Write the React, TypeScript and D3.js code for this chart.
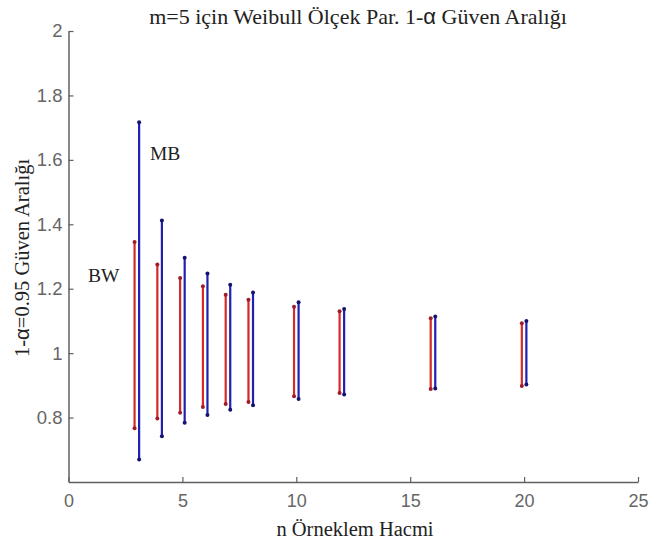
import * as d3 from "d3";
import { useEffect, useRef } from "react";

// sample sizes
const nValues = [3, 4, 5, 6, 7, 8, 10, 12, 16, 20];
// BW intervals (red)
const bwLower = [0.767, 0.797, 0.815, 0.833, 0.842, 0.848, 0.866, 0.876, 0.889, 0.898];
const bwUpper = [1.345, 1.275, 1.233, 1.208, 1.181, 1.166, 1.144, 1.13, 1.108, 1.093];
// MB intervals (blue)
const mbLower = [0.67, 0.742, 0.784, 0.808, 0.824, 0.838, 0.858, 0.872, 0.89, 0.903];
const mbUpper = [1.717, 1.412, 1.296, 1.247, 1.212, 1.188, 1.158, 1.137, 1.114, 1.1];

const xTicks = [0, 5, 10, 15, 20, 25];
const yTicks = [0.8, 1, 1.2, 1.4, 1.6, 1.8, 2];

export default function App() {
  const ref = useRef<SVGSVGElement>(null);

  useEffect(() => {
    if (!ref.current) return;
    const svg = d3.select(ref.current);
    svg.selectAll("*").remove();

    const width = 651,
      height = 546,
      margin = { top: 31, right: 13, bottom: 64, left: 68.5 };

    const x = d3
      .scaleLinear()
      .domain([0, 25])
      .range([margin.left, width - margin.right]);

    const y = d3
      .scaleLinear()
      .domain([0.6, 2])
      .range([height - margin.bottom, margin.top]);

    svg.append("rect").attr("width", width).attr("height", height).attr("fill", "#fff");

    const axisColor = "#606060";
    const serif = "'Liberation Serif', 'Times New Roman', serif";
    const sans = "'Liberation Sans', Arial, sans-serif";

    // X-axis (ticks pointing inward)
    const gx = svg
      .append("g")
      .attr("transform", `translate(0, ${height - margin.bottom})`)
      .call(d3.axisBottom(x).tickValues(xTicks).tickSize(0).tickPadding(12).tickFormat(d3.format("d")));
    gx.select(".domain").attr("stroke", axisColor).attr("stroke-width", 1.5);
    gx.selectAll(".tick")
      .append("line")
      .attr("y2", -5)
      .attr("stroke", axisColor)
      .attr("stroke-width", 1.2);
    gx.selectAll("text")
      .attr("fill", "#666")
      .attr("font-family", sans)
      .attr("font-size", "18px");

    // Y-axis
    const gy = svg
      .append("g")
      .attr("transform", `translate(${margin.left}, 0)`)
      .call(d3.axisLeft(y).tickValues(yTicks).tickSize(0).tickPadding(6).tickFormat((d) => String(d)));
    gy.select(".domain").attr("stroke", axisColor).attr("stroke-width", 1.5);
    gy.selectAll(".tick")
      .append("line")
      .attr("x2", 5)
      .attr("stroke", axisColor)
      .attr("stroke-width", 1.2);
    gy.selectAll("text")
      .attr("fill", "#666")
      .attr("font-family", sans)
      .attr("font-size", "18.5px");

    // interval lines
    const series = [
      { lower: bwLower, upper: bwUpper, shift: -0.1, color: "#d42a2a", dot: "#a01c2a" },
      { lower: mbLower, upper: mbUpper, shift: 0.1, color: "#1f1fb0", dot: "#14146e" },
    ];

    series.forEach((s) => {
      const g = svg.append("g");
      g.selectAll("line")
        .data(nValues)
        .enter()
        .append("line")
        .attr("x1", (d) => x(d + s.shift))
        .attr("x2", (d) => x(d + s.shift))
        .attr("y1", (d, i) => y(s.lower[i]))
        .attr("y2", (d, i) => y(s.upper[i]))
        .attr("stroke", s.color)
        .attr("stroke-width", 2.2);

      const ends = nValues.flatMap((d, i) => [
        { n: d, v: s.lower[i] },
        { n: d, v: s.upper[i] },
      ]);
      g.selectAll("circle")
        .data(ends)
        .enter()
        .append("circle")
        .attr("cx", (d) => x(d.n + s.shift))
        .attr("cy", (d) => y(d.v))
        .attr("r", 2)
        .attr("fill", s.dot);
    });

    // annotations
    svg.append("text")
      .attr("x", 150)
      .attr("y", 160)
      .attr("font-family", serif)
      .attr("font-size", "19.5px")
      .attr("fill", "#222")
      .text("MB");

    svg.append("text")
      .attr("x", 88)
      .attr("y", 282)
      .attr("font-family", serif)
      .attr("font-size", "19.5px")
      .attr("fill", "#222")
      .text("BW");

    // Title
    const title = svg.append("text")
      .attr("x", 358)
      .attr("y", 24)
      .attr("text-anchor", "middle")
      .attr("font-family", serif)
      .attr("font-size", "22px")
      .attr("fill", "#222");
    title.append("tspan").text("m=5 için Weibull Ölçek Par. 1-");
    title.append("tspan").attr("font-family", sans).text("α");
    title.append("tspan").text(" Güven Aralığı");

    // X-axis label
    svg.append("text")
      .attr("x", 355)
      .attr("y", 536)
      .attr("text-anchor", "middle")
      .attr("font-family", serif)
      .attr("font-size", "20.5px")
      .attr("fill", "#222")
      .text("n Örneklem Hacmi");

    // Y-axis label
    const yl = svg.append("text")
      .attr("transform", "rotate(-90)")
      .attr("x", -258)
      .attr("y", 29)
      .attr("text-anchor", "middle")
      .attr("font-family", serif)
      .attr("font-size", "20.5px")
      .attr("fill", "#222");
    yl.append("tspan").text("1-");
    yl.append("tspan").attr("font-family", sans).text("α");
    yl.append("tspan").text("=0.95 Güven Aralığı");
  }, []);

  return (
    <svg
      ref={ref}
      width={651}
      height={546}
      style={{ position: "absolute", left: 0, top: 0, display: "block" }}
    />
  );
}
